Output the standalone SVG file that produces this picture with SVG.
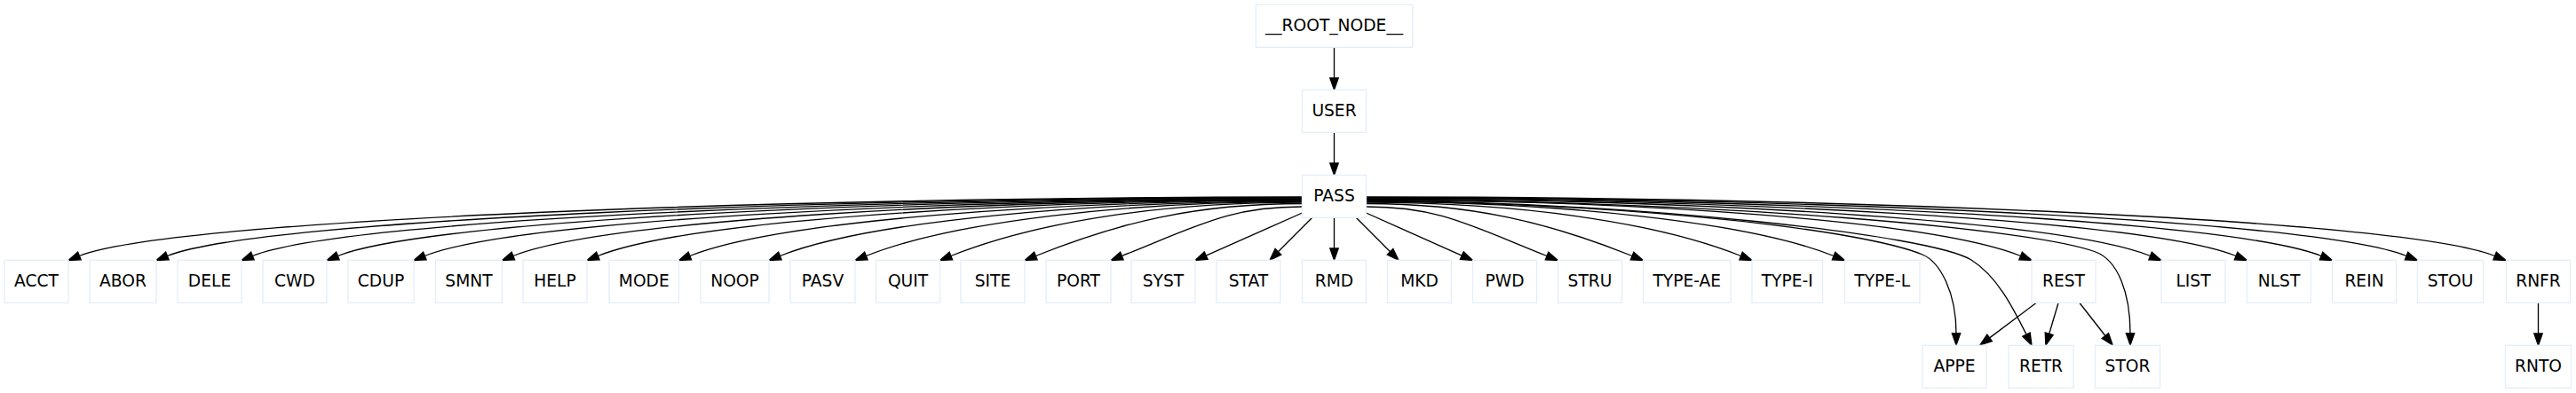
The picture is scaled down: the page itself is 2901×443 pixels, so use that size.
<svg xmlns="http://www.w3.org/2000/svg" width="2901" height="443" viewBox="0 0 2901 443">
<style>
.n rect{fill:#ffffff;stroke:#e4eefb;stroke-width:1.33}
.n text{font-family:"DejaVu Sans","Liberation Sans",sans-serif;font-size:18.67px;fill:#000;text-anchor:middle}
.e path{fill:none;stroke:#000;stroke-width:1.33;marker-end:url(#ah)}
</style>
<defs>
<marker id="ah" markerUnits="userSpaceOnUse" markerWidth="16" markerHeight="12" refX="0" refY="0" orient="auto" overflow="visible">
<path d="M0,-4.67 L13.33,0 L0,4.67 Z" fill="#000" stroke="#000" stroke-width="1.33"/>
</marker>
</defs>
<rect x="0" y="0" width="2901" height="443" fill="#ffffff"/>
<g id="edges" class="e">
<path d="M1502.5,53.3 L1502.5,88"/>
<path d="M1502.5,149.3 L1502.5,184"/>
<path d="M1466.5,222 C915.7,222 195.8,245.9 89.4,288.5"/>
<path d="M1466.5,222.6 C955.3,222.6 293.8,246.3 188.4,288.5"/>
<path d="M1466.5,223.2 C993.7,223.2 388.9,246.7 284.4,288.5"/>
<path d="M1466.5,223.8 C1032.1,223.8 483.9,247.1 380.4,288.5"/>
<path d="M1466.5,224.4 C1071.3,224.4 581,247.5 478.4,288.5"/>
<path d="M1466.5,225 C1111.1,225 679.5,247.9 577.9,288.5"/>
<path d="M1466.5,225.6 C1149.3,225.6 774,248.2 673.4,288.5"/>
<path d="M1466.5,226.2 C1190.7,226.2 876.6,248.6 776.9,288.5"/>
<path d="M1466.5,226.8 C1231.3,226.8 977.1,249 878.4,288.5"/>
<path d="M1466.5,227.4 C1270.1,227.4 1073.2,249.4 975.4,288.5"/>
<path d="M1466.5,228.2 C1308.3,228.2 1167.4,249.9 1070.9,288.5"/>
<path d="M1466.5,229.5 C1346.5,229.5 1260.8,250.7 1166.4,288.5"/>
<path d="M1466.5,233 C1385.3,233 1352.2,253 1263.4,288.5"/>
<path d="M1466.5,240 L1358.2,288.1"/>
<path d="M1478,245 L1439.4,283.8"/>
<path d="M1502.5,245.3 L1502.5,280"/>
<path d="M1527,245 L1565.6,283.8"/>
<path d="M1538.5,240 L1646.3,288.1"/>
<path d="M1538.5,233 C1619.9,233 1653.3,253 1742.1,288.5"/>
<path d="M1538.5,229.5 C1658.3,229.5 1743.7,250.7 1838.1,288.5"/>
<path d="M1538.5,228.2 C1707.3,228.2 1864.1,249.9 1960.6,288.5"/>
<path d="M1538.5,227.4 C1749.1,227.4 1967.3,249.4 2065.1,288.5"/>
<path d="M1538.5,226.8 C1850,229 2100,260 2165,287 C2185,295.3 2203,330 2203,375.7"/>
<path d="M1538.5,226.2 C1850,228 2175,265 2220,293 C2250,311.7 2268.5,350 2282,377"/>
<path d="M1538.5,225.6 C1833.3,225.6 2175,248.2 2275.6,288.5"/>
<path d="M1538.5,225 C1950,227 2290,258 2360,284 C2385,293.3 2399,330 2399,375.7"/>
<path d="M1538.5,224.4 C1891.7,224.4 2319,247.5 2421.6,288.5"/>
<path d="M1538.5,223.8 C1930.3,223.8 2414.6,247.1 2518.1,288.5"/>
<path d="M1538.5,223.2 C1968.7,223.2 2509.6,246.7 2614.1,288.5"/>
<path d="M1538.5,222.6 C2007.1,222.6 2604.7,246.3 2710.1,288.5"/>
<path d="M1538.5,222 C2046.9,222 2703.2,245.9 2809.6,288.5"/>
<path d="M2293,341.5 L2240.6,380.9"/>
<path d="M2318,341.5 L2307.7,376.2"/>
<path d="M2342,341.5 L2370.9,378.5"/>
<path d="M2858.5,341.3 L2858.5,376"/>
</g>
<g id="ROOT_NODE" class="n"><rect x="1414.3" y="5.3" width="176.4" height="48"/><text x="1502.5" y="34.6">__ROOT_NODE__</text></g>
<g id="USER" class="n"><rect x="1466.5" y="101.3" width="72" height="48"/><text x="1502.5" y="130.6">USER</text></g>
<g id="PASS" class="n"><rect x="1466.5" y="197.3" width="72" height="48"/><text x="1502.5" y="226.6">PASS</text></g>
<g id="ACCT" class="n"><rect x="5" y="293.3" width="72" height="48"/><text x="41" y="322.6">ACCT</text></g>
<g id="ABOR" class="n"><rect x="101" y="293.3" width="75" height="48"/><text x="138.5" y="322.6">ABOR</text></g>
<g id="DELE" class="n"><rect x="200" y="293.3" width="72" height="48"/><text x="236" y="322.6">DELE</text></g>
<g id="CWD" class="n"><rect x="296" y="293.3" width="72" height="48"/><text x="332" y="322.6">CWD</text></g>
<g id="CDUP" class="n"><rect x="392" y="293.3" width="74" height="48"/><text x="429" y="322.6">CDUP</text></g>
<g id="SMNT" class="n"><rect x="490.5" y="293.3" width="75" height="48"/><text x="528" y="322.6">SMNT</text></g>
<g id="HELP" class="n"><rect x="589" y="293.3" width="72" height="48"/><text x="625" y="322.6">HELP</text></g>
<g id="MODE" class="n"><rect x="686" y="293.3" width="78.5" height="48"/><text x="725.25" y="322.6">MODE</text></g>
<g id="NOOP" class="n"><rect x="789" y="293.3" width="77" height="48"/><text x="827.5" y="322.6">NOOP</text></g>
<g id="PASV" class="n"><rect x="890" y="293.3" width="73" height="48"/><text x="926.5" y="322.6">PASV</text></g>
<g id="QUIT" class="n"><rect x="986.5" y="293.3" width="72" height="48"/><text x="1022.5" y="322.6">QUIT</text></g>
<g id="SITE" class="n"><rect x="1082" y="293.3" width="72" height="48"/><text x="1118" y="322.6">SITE</text></g>
<g id="PORT" class="n"><rect x="1178" y="293.3" width="73" height="48"/><text x="1214.5" y="322.6">PORT</text></g>
<g id="SYST" class="n"><rect x="1274" y="293.3" width="72" height="48"/><text x="1310" y="322.6">SYST</text></g>
<g id="STAT" class="n"><rect x="1370" y="293.3" width="72" height="48"/><text x="1406" y="322.6">STAT</text></g>
<g id="RMD" class="n"><rect x="1466.5" y="293.3" width="72" height="48"/><text x="1502.5" y="322.6">RMD</text></g>
<g id="MKD" class="n"><rect x="1562.5" y="293.3" width="72" height="48"/><text x="1598.5" y="322.6">MKD</text></g>
<g id="PWD" class="n"><rect x="1658.5" y="293.3" width="72" height="48"/><text x="1694.5" y="322.6">PWD</text></g>
<g id="STRU" class="n"><rect x="1754.5" y="293.3" width="72" height="48"/><text x="1790.5" y="322.6">STRU</text></g>
<g id="TYPE-AE" class="n"><rect x="1850.5" y="293.3" width="98.5" height="48"/><text x="1899.75" y="322.6">TYPE-AE</text></g>
<g id="TYPE-I" class="n"><rect x="1973" y="293.3" width="79.5" height="48"/><text x="2012.75" y="322.6">TYPE-I</text></g>
<g id="TYPE-L" class="n"><rect x="2077.5" y="293.3" width="84.5" height="48"/><text x="2119.75" y="322.6">TYPE-L</text></g>
<g id="REST" class="n"><rect x="2288" y="293.3" width="72" height="48"/><text x="2324" y="322.6">REST</text></g>
<g id="LIST" class="n"><rect x="2434" y="293.3" width="72" height="48"/><text x="2470" y="322.6">LIST</text></g>
<g id="NLST" class="n"><rect x="2530.5" y="293.3" width="72" height="48"/><text x="2566.5" y="322.6">NLST</text></g>
<g id="REIN" class="n"><rect x="2626.5" y="293.3" width="72" height="48"/><text x="2662.5" y="322.6">REIN</text></g>
<g id="STOU" class="n"><rect x="2722.5" y="293.3" width="74" height="48"/><text x="2759.5" y="322.6">STOU</text></g>
<g id="RNFR" class="n"><rect x="2822.5" y="293.3" width="72" height="48"/><text x="2858.5" y="322.6">RNFR</text></g>
<g id="APPE" class="n"><rect x="2165" y="389.3" width="72" height="48"/><text x="2201" y="418.6">APPE</text></g>
<g id="RETR" class="n"><rect x="2262" y="389.3" width="73" height="48"/><text x="2298.5" y="418.6">RETR</text></g>
<g id="STOR" class="n"><rect x="2359.5" y="389.3" width="73" height="48"/><text x="2396" y="418.6">STOR</text></g>
<g id="RNTO" class="n"><rect x="2821.5" y="389.3" width="74" height="48"/><text x="2858.5" y="418.6">RNTO</text></g>
</svg>
